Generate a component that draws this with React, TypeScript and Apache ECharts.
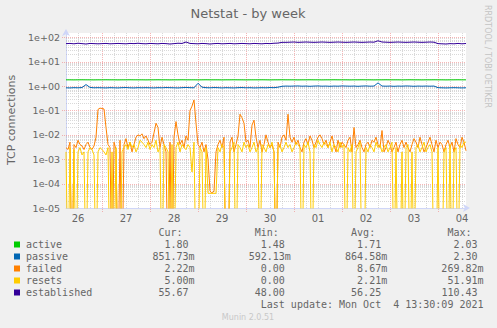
import React, { useEffect, useRef } from 'react';
import * as echarts from 'echarts';

// ---- time axis (hours since Sep 26 00:00) ----
const START_HOUR = 6;
const END_HOUR = 206;
const dayLabels = ['26', '27', '28', '29', '30', '01', '02', '03', '04'];

// hourly samples (h6 .. h206) in milli-connections, 0 = zero
const failedMilli = [
  3, 2.5, 5, 0, 4, 3, 6, 4, 3.5, 2.5,
  4, 5, 3, 2.5, 3.5, 8, 110, 125, 120, 115,
  20, 4, 3, 0, 5, 2.5, 0, 6, 0, 4,
  7, 3, 5, 2, 4, 8, 10, 9, 11, 7,
  9, 6, 4, 5, 12, 30, 20, 3, 8, 4,
  2, 0, 5, 0, 8, 35, 10, 4, 6, 3,
  9, 6, 100, 150, 270, 30, 4, 3, 5, 2,
  4, 1, 0.05, 0.04, 0.05, 2, 4, 6, 3, 8,
  0, 0, 5, 8, 2, 4, 9, 70, 50, 30,
  5, 6, 3, 25, 40, 8, 3, 6, 2, 4,
  10, 5, 3, 4, 2, 0, 5, 3, 8, 10,
  6, 70, 8, 5, 8, 4, 6, 3, 2, 5,
  7, 4, 9, 6, 3, 5, 8, 10, 7, 4,
  6, 3, 5, 9, 4, 2, 6, 3, 5, 4,
  3, 6, 8, 2, 20, 3, 4, 6, 3, 2,
  4, 5, 3, 6, 5, 8, 4, 3, 15, 2,
  3, 6, 4, 2, 3, 5, 2, 4, 6, 3,
  5, 3, 2, 4, 7, 5, 3, 8, 4, 2,
  3, 5, 8, 4, 2, 6, 3, 5, 4, 2,
  4, 6, 3, 5, 2, 7, 4, 3, 8, 5,
  2.22,
];
const resetsMilli = [
  2, 0, 3, 0, 2.5, 0, 2, 3, 1.5, 2,
  0, 2, 3, 2.5, 1.5, 0, 2, 3, 2.5, 2,
  1.5, 3, 0, 2, 0, 3, 0, 0, 2, 3,
  4, 2.5, 5, 3, 4, 2, 3, 6, 5, 4,
  3, 5, 2.5, 4, 3, 6, 2, 3, 0, 4,
  3, 2, 0, 4, 0, 3, 5, 2, 4, 3,
  2.5, 4, 3, 0.3, 5, 0, 0, 3, 2, 0,
  3, 0.04, 0.04, 0.04, 0.04, 0.04, 3, 2, 4, 3,
  0, 0, 2, 3, 5, 0, 4, 3, 2, 5,
  3, 4, 2, 3, 5, 2, 3, 0, 4, 3,
  2, 4, 3, 5, 2, 0, 3, 4, 2, 3,
  5, 3, 4, 2, 3, 5, 4, 3, 0, 4,
  3, 5, 2, 0, 4, 3, 6, 4, 3, 5,
  4, 3, 5, 2, 4, 3, 2, 5, 3, 4,
  0, 3, 2, 4, 0, 2, 3, 5, 0, 0,
  3, 2, 4, 3, 2, 5, 3, 4, 2, 3,
  4, 2, 3, 5, 0, 3, 0, 0, 2, 0,
  3, 4, 0, 2, 0, 3, 4, 2, 3, 5,
  2, 3, 4, 2, 0, 0, 3, 0, 0, 2,
  3, 0, 4, 0, 2, 3, 0, 4, 3, 5,
  5,
];

// 2-hourly samples (h6, h8 .. h206)
const COARSE_STEP = 2;
const established = [
  55, 56, 54, 57, 55, 53, 56, 55, 54, 55,
  56, 54, 55, 56, 55, 54, 56, 55, 57, 55,
  54, 56, 55, 54, 56, 55, 53, 55, 57, 56,
  64, 56, 55, 54, 56, 55, 53, 55, 56, 54,
  55, 56, 54, 55, 56, 55, 54, 56, 55, 54,
  56, 55, 57, 58, 62, 62, 63, 64, 62, 63,
  64, 63, 62, 63, 64, 63, 62, 63, 64, 63,
  62, 63, 64, 63, 62, 63, 64, 63, 72, 64,
  63, 62, 63, 64, 63, 62, 63, 64, 63, 62,
  63, 64, 63, 55, 54, 53, 55, 54, 56, 54,
  55.67,
];
const active = [
  1.8, 1.8, 1.79, 1.8, 1.81, 1.8, 1.8, 1.79, 1.8, 1.8,
  1.81, 1.8, 1.8, 1.79, 1.8, 1.8, 1.81, 1.8, 1.8, 1.8,
  1.79, 1.8, 1.8, 1.81, 1.8, 1.8, 1.79, 1.8, 1.8, 1.81,
  1.8, 1.8, 1.8, 1.79, 1.8, 1.81, 1.8, 1.8, 1.8, 1.79,
  1.8, 1.8, 1.81, 1.8, 1.8, 1.79, 1.8, 1.8, 1.8, 1.81,
  1.8, 1.79, 1.8, 1.8, 1.81, 1.8, 1.8, 1.8, 1.79, 1.8,
  1.8, 1.81, 1.8, 1.8, 1.79, 1.8, 1.8, 1.81, 1.8, 1.8,
  1.8, 1.79, 1.8, 1.8, 1.81, 1.8, 1.8, 1.79, 1.8, 1.8,
  1.81, 1.8, 1.8, 1.8, 1.79, 1.8, 1.81, 1.8, 1.8, 1.79,
  1.8, 1.8, 1.81, 1.8, 1.8, 1.79, 1.8, 1.8, 1.81, 1.8,
  1.8,
];
const passive = [
  0.85, 0.84, 0.86, 0.85, 0.87, 1.15, 0.88, 0.85, 0.86, 0.85,
  0.84, 0.86, 0.85, 0.84, 0.86, 0.87, 0.85, 0.84, 0.86, 0.85,
  0.86, 0.85, 0.84, 0.86, 0.85, 0.87, 0.86, 0.85, 0.84, 0.86,
  0.88, 0.86, 0.85, 1.3, 0.9, 0.86, 0.85, 0.87, 0.86, 0.84,
  0.86, 0.85, 0.84, 0.86, 0.87, 0.85, 0.86, 0.84, 0.85, 0.86,
  0.85, 0.87, 0.86, 0.9, 0.98, 1.0, 0.99, 1.0, 1.01, 0.99,
  1.0, 0.98, 1.0, 1.01, 0.99, 1.0, 0.98, 1.0, 0.99, 1.01,
  1.0, 0.99, 1.0, 0.98, 1.0, 1.01, 0.99, 1.0, 1.35, 1.0,
  0.99, 1.0, 0.98, 1.0, 0.99, 1.01, 1.0, 0.98, 1.0, 0.99,
  1.0, 0.99, 1.0, 0.86, 0.85, 0.84, 0.85, 0.86, 0.85, 0.84,
  0.8517,
];

// ---- legend table ----
const seriesNames = ['active', 'passive', 'failed', 'resets', 'established'];
const seriesColors = ['#00CC00', '#0066B3', '#FF8000', '#FFCC00', '#330099'];
const curValues = ['1.80', '851.73m', '2.22m', '5.00m', '55.67'];
const minValues = ['1.48', '592.13m', '0.00', '0.00', '48.00'];
const avgValues = ['1.71', '864.58m', '8.67m', '2.21m', '56.25'];
const maxValues = ['2.03', '2.30', '269.82m', '51.91m', '110.43'];
const columnHeaders = ['Cur:', 'Min:', 'Avg:', 'Max:'];
const lastUpdate = 'Last update: Mon Oct  4 13:30:09 2021';

const Y_MIN = 1e-5;
const Y_MAX = 150;
const ZERO_FLOOR = 1e-8;

const GRID_LEFT = 66;
const GRID_RIGHT = 31;
const GRID_TOP = 33;
const GRID_BOTTOM = 120;

const FONT_COLOR = '#666666';
const AXIS_COLOR = '#CFD6F8';
const MINOR_GRID = 'rgba(185,185,185,0.55)';
const MAJOR_GRID = 'rgba(240,110,110,0.5)';

function fmtExp(v: number): string {
  const e = Math.round(Math.log10(v));
  if (Math.abs(v / Math.pow(10, e) - 1) > 1e-6) return '';
  const a = Math.abs(e);
  return '1e' + (e < 0 ? '-' : '+') + (a < 10 ? '0' : '') + a;
}

function buildOption() {
  const fine = (arr: number[]) =>
    arr.map((v, i) => [START_HOUR + i, v === 0 ? ZERO_FLOOR : v / 1000]);
  const coarse = (arr: number[]) =>
    arr.map((v, i) => [START_HOUR + i * COARSE_STEP, v]);

  // grid line positions (axis structure, not data)
  const decades: number[] = [];
  const minors: number[] = [];
  for (let e = -5; e <= 2; e++) {
    const d = Math.pow(10, e);
    decades.push(d);
    for (let k = 2; k <= 9; k++) if (k * d < Y_MAX) minors.push(k * d);
  }
  const hourMinor: number[] = [];
  const hourMajor: number[] = [];
  for (let h = START_HOUR + 6; h < END_HOUR; h += 6) {
    if (h % 24 === 0) hourMajor.push(h);
    else hourMinor.push(h);
  }

  const gridSeries = (values: number[], horizontal: boolean, major: boolean) => ({
    type: 'custom',
    silent: true,
    z: 1,
    clip: false,
    data: values.map((v) => (horizontal ? [START_HOUR, v] : [v, 1])),
    renderItem: (params: any, api: any) => {
      const cs = params.coordSys;
      const stroke = major ? MAJOR_GRID : MINOR_GRID;
      if (horizontal) {
        const y = Math.round(api.coord([START_HOUR, api.value(1)])[1]) + 0.5;
        return {
          type: 'line',
          shape: { x1: cs.x - (major ? 4 : 0), y1: y, x2: cs.x + cs.width, y2: y },
          style: { stroke, lineWidth: 1, lineDash: [1, 1] },
        };
      }
      const x = Math.round(api.coord([api.value(0), 1])[0]) + 0.5;
      return {
        type: 'line',
        shape: { x1: x, y1: cs.y, x2: x, y2: cs.y + cs.height + (major ? 4 : 0) },
        style: { stroke, lineWidth: 1, lineDash: [1, 1] },
      };
    },
  });

  const lineSeries = (name: string, data: number[][], color: string) => ({
    name,
    type: 'line',
    data,
    showSymbol: false,
    symbol: 'none',
    clip: true,
    z: 2,
    lineStyle: { color, width: 1 },
    emphasis: { disabled: true },
  });

  const seriesData = [
    coarse(active),
    coarse(passive),
    fine(failedMilli),
    fine(resetsMilli),
    coarse(established),
  ];

  // legend graphics
  const CW = 6.02;
  const LX = 26;
  const mono = '10px "DejaVu Sans Mono"';
  const txt = (text: string, x: number, y: number, align: string, font = mono, fill = FONT_COLOR, rotation = 0) => ({
    type: 'text',
    x,
    y,
    rotation,
    silent: true,
    style: {
      text,
      font,
      fill,
      align,
      textAlign: align,
      verticalAlign: 'middle',
      textVerticalAlign: 'middle',
    },
  });
  const children: any[] = [];
  const headerCols = [22, 38, 54, 70];
  const endCols = [28, 44, 60, 76];
  columnHeaders.forEach((h, c) => children.push(txt(h, LX + headerCols[c] * CW, 232.5, 'left')));
  const cols = [curValues, minValues, avgValues, maxValues];
  seriesNames.forEach((name, i) => {
    const y = 244.5 + 12 * i;
    children.push({
      type: 'rect',
      silent: true,
      shape: { x: 14, y: y - 3, width: 6, height: 6 },
      style: { fill: seriesColors[i] },
    });
    children.push(txt(name, LX, y, 'left'));
    cols.forEach((arr, c) => {
      const v = arr[i];
      const endCol = endCols[c] - (v.endsWith('m') ? 0 : 1);
      children.push(txt(v, LX + endCol * CW, y, 'right'));
    });
  });
  children.push(txt(lastUpdate, LX + 76 * CW, 304.5, 'right'));
  children.push(txt('Netstat - by week', 248, 13, 'center', '13px "DejaVu Sans"'));
  children.push(txt('TCP connections', 11, 120, 'center', '11px "DejaVu Sans"', FONT_COLOR, Math.PI / 2));
  children.push(txt('RRDTOOL / TOBI OETIKER', 487, 5, 'left', '8px "DejaVu Sans"', '#c4c4c4', -Math.PI / 2));
  children.push(txt('Munin 2.0.51', 248, 317, 'center', '8px "DejaVu Sans"', '#c8c8c8'));

  return {
    animation: false,
    backgroundColor: '#F0F0F0',
    grid: {
      left: GRID_LEFT,
      right: GRID_RIGHT,
      top: GRID_TOP,
      bottom: GRID_BOTTOM,
      show: true,
      backgroundColor: '#FFFFFF',
      borderWidth: 0,
      containLabel: false,
      outerBoundsMode: 'none',
    },
    xAxis: {
      type: 'value',
      min: START_HOUR,
      max: END_HOUR,
      interval: 6,
      axisLine: {
        show: true,
        onZero: false,
        lineStyle: { color: AXIS_COLOR, width: 1 },
        symbol: ['none', 'arrow'],
        symbolSize: [6, 7],
        symbolOffset: [0, 4],
      },
      axisTick: { show: false },
      splitLine: { show: false },
      axisLabel: {
        show: true,
        interval: 0,
        hideOverlap: false,
        margin: 5,
        color: FONT_COLOR,
        fontFamily: 'DejaVu Sans',
        fontSize: 10,
        formatter: (v: number) =>
          Math.abs(v % 24 - 12) < 1e-6 ? dayLabels[Math.round((v - 12) / 24)] ?? '' : '',
      },
    },
    yAxis: {
      type: 'log',
      logBase: 10,
      min: Y_MIN,
      max: Y_MAX,
      interval: 1,
      axisLine: {
        show: true,
        lineStyle: { color: AXIS_COLOR, width: 1 },
        symbol: ['none', 'arrow'],
        symbolSize: [6, 7],
        symbolOffset: [0, 4],
      },
      axisTick: { show: false },
      splitLine: { show: false },
      minorSplitLine: { show: false },
      axisLabel: {
        show: true,
        margin: 6,
        color: FONT_COLOR,
        fontFamily: 'DejaVu Sans',
        fontSize: 9.5,
        formatter: (v: number) => fmtExp(v),
      },
    },
    series: [
      gridSeries(minors, true, false),
      gridSeries(hourMinor, false, false),
      gridSeries(decades.filter((d) => d > Y_MIN && d < Y_MAX), true, true),
      gridSeries(hourMajor, false, true),
      ...seriesNames.map((n, i) => lineSeries(n, seriesData[i], seriesColors[i])),
    ],
    graphic: { elements: children },
  };
}

export default function App() {
  const ref = useRef<HTMLDivElement>(null);
  useEffect(() => {
    if (!ref.current) return;
    const chart = echarts.init(ref.current, null, { renderer: 'svg' });
    chart.setOption(buildOption() as any);
    return () => chart.dispose();
  }, []);
  return (
    <div
      ref={ref}
      style={{ position: 'absolute', left: 0, top: 0, width: 497, height: 328 }}
    />
  );
}
